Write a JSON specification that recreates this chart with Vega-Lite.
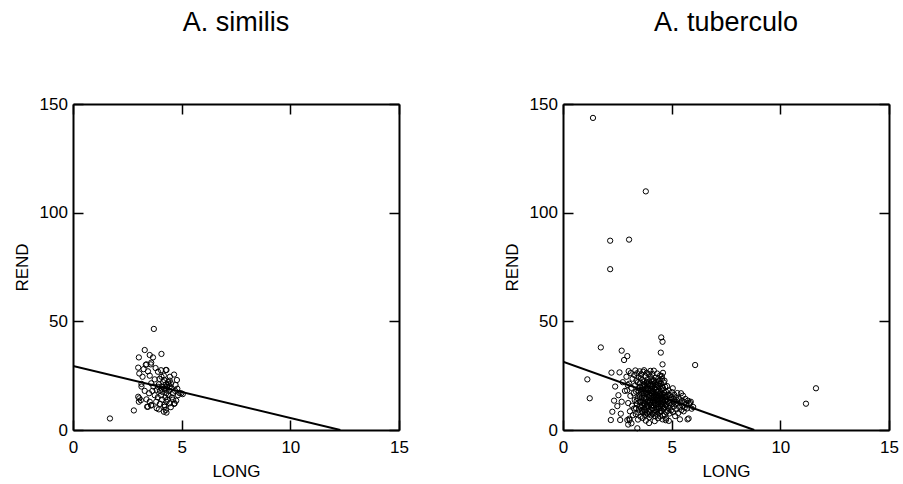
{
  "$schema": "https://vega.github.io/schema/vega-lite/v6.json",
  "background": "white",
  "padding": {"left": 13, "top": 9, "right": 5, "bottom": 5},
  "spacing": 164,
  "bounds": "flush",
  "config": {
    "view": {"stroke": null},
    "font": "Liberation Sans",
    "axis": {
      "grid": false,
      "domain": true,
      "domainColor": "black",
      "domainWidth": 2,
      "ticks": true,
      "tickSize": -10,
      "tickColor": "black",
      "tickWidth": 1.5,
      "labelFont": "Liberation Sans",
      "labelFontSize": 17,
      "labelColor": "black",
      "labelFlush": false,
      "labelOverlap": false,
      "titleFont": "Liberation Sans",
      "titleFontSize": 17,
      "titleFontWeight": "normal",
      "titleColor": "black"
    },
    "axisX": {"labelPadding": 19.5, "titlePadding": 8},
    "axisY": {"labelPadding": 15.6, "titlePadding": 8},
    "title": {"font": "Liberation Sans", "fontSize": 27, "fontWeight": "normal", "color": "black", "anchor": "middle", "baseline": "alphabetic", "offset": 58, "frame": "group"}
  },
  "datasets": {
    "similis": [
      {"LONG":1.7,"REND":5.3},{"LONG":2.8,"REND":9},{"LONG":3.0,"REND":28.7},{"LONG":3.05,"REND":26},{"LONG":3.03,"REND":33.4},
      {"LONG":3.3,"REND":36.8},{"LONG":3.53,"REND":34.5},{"LONG":3.68,"REND":33.4},{"LONG":4.07,"REND":35},{"LONG":3.72,"REND":46.5},
      {"LONG":3.38,"REND":30.2},{"LONG":3.58,"REND":30.2},{"LONG":4.3,"REND":27.6},{"LONG":3.91,"REND":26.8},{"LONG":3.2,"REND":24.5},
      {"LONG":3.53,"REND":25},{"LONG":3.76,"REND":23.3},{"LONG":4.07,"REND":24.5},{"LONG":4.46,"REND":24.5},{"LONG":4.78,"REND":23},
      {"LONG":4.45,"REND":22.7},{"LONG":4.72,"REND":20.7},{"LONG":3.15,"REND":21.2},{"LONG":3.6,"REND":21.5},{"LONG":3.91,"REND":19.9},
      {"LONG":3.5,"REND":16.9},{"LONG":3.76,"REND":16},{"LONG":3.38,"REND":14.1},{"LONG":3.05,"REND":14.6},{"LONG":3.03,"REND":13},
      {"LONG":3.53,"REND":13},{"LONG":3.83,"REND":13},{"LONG":4.45,"REND":12.3},{"LONG":4.68,"REND":12.3},{"LONG":3.45,"REND":10.7},
      {"LONG":3.6,"REND":11.5},{"LONG":4.22,"REND":10.7},{"LONG":4.27,"REND":9.2},{"LONG":4.18,"REND":8.4},{"LONG":4.3,"REND":8},
      {"LONG":4.98,"REND":16.9},{"LONG":4.83,"REND":16},{"LONG":4.65,"REND":25.5},{"LONG":4.27,"REND":27.6},{"LONG":3.35,"REND":30},
      {"LONG":3.0,"REND":15.3},{"LONG":3.12,"REND":13.7},{"LONG":3.41,"REND":10.7},{"LONG":3.6,"REND":11.3},{"LONG":4.65,"REND":12},
      {"LONG":4.0,"REND":18},{"LONG":4.1,"REND":20},{"LONG":4.2,"REND":19},{"LONG":4.3,"REND":17},{"LONG":4.4,"REND":21},
      {"LONG":4.15,"REND":22},{"LONG":4.25,"REND":15},{"LONG":4.35,"REND":14},{"LONG":4.05,"REND":16},{"LONG":3.95,"REND":21},
      {"LONG":4.5,"REND":19},{"LONG":4.6,"REND":17},{"LONG":4.55,"REND":15},{"LONG":4.45,"REND":20},{"LONG":4.2,"REND":23},
      {"LONG":4.1,"REND":14},{"LONG":4.0,"REND":12},{"LONG":4.3,"REND":13},{"LONG":4.4,"REND":16},{"LONG":4.7,"REND":18},
      {"LONG":4.8,"REND":19},{"LONG":4.9,"REND":17},{"LONG":5.05,"REND":16.5},{"LONG":4.25,"REND":18.5},{"LONG":4.12,"REND":17.5},
      {"LONG":4.33,"REND":19.8},{"LONG":4.38,"REND":22},{"LONG":4.5,"REND":21.5},{"LONG":4.18,"REND":25},{"LONG":3.98,"REND":23.5},
      {"LONG":3.85,"REND":18.5},{"LONG":3.7,"REND":20},{"LONG":3.65,"REND":18},{"LONG":3.9,"REND":15},{"LONG":4.05,"REND":27.5},
      {"LONG":3.8,"REND":28.5},{"LONG":3.45,"REND":27},{"LONG":3.25,"REND":28},{"LONG":3.6,"REND":31},{"LONG":3.15,"REND":20},
      {"LONG":3.3,"REND":18},{"LONG":3.85,"REND":10},{"LONG":4.5,"REND":10.5},{"LONG":4.6,"REND":14},{"LONG":4.75,"REND":13.5},
      {"LONG":3.95,"REND":9.5},{"LONG":4.2,"REND":11.5},{"LONG":4.28,"REND":21},{"LONG":4.42,"REND":18},{"LONG":4.08,"REND":19}
    ],
    "similis_fit": [{"LONG":0,"REND":29.5},{"LONG":12.3,"REND":0}],
    "tuberculo": [
      {"LONG":1.38,"REND":143.6},{"LONG":3.81,"REND":109.8},{"LONG":2.17,"REND":87.1},{"LONG":3.04,"REND":87.6},{"LONG":2.17,"REND":74},
      {"LONG":11.64,"REND":19.2},{"LONG":11.18,"REND":12.1},{"LONG":1.74,"REND":38},{"LONG":2.7,"REND":36.5},{"LONG":2.96,"REND":34},
      {"LONG":2.81,"REND":32.2},{"LONG":4.58,"REND":40.6},{"LONG":4.52,"REND":42.6},{"LONG":4.5,"REND":35.6},{"LONG":4.58,"REND":30.2},
      {"LONG":1.12,"REND":23.3},{"LONG":1.23,"REND":14.6},{"LONG":2.23,"REND":26.4},{"LONG":2.6,"REND":26.5},{"LONG":2.35,"REND":13.5},
      {"LONG":2.55,"REND":16},{"LONG":2.27,"REND":8.4},{"LONG":2.2,"REND":4.6},{"LONG":2.63,"REND":4.6},{"LONG":2.96,"REND":4.6},
      {"LONG":3.07,"REND":4.6},{"LONG":2.66,"REND":7.5},{"LONG":3.42,"REND":0.8},{"LONG":2.4,"REND":20},{"LONG":2.75,"REND":22},
      {"LONG":2.85,"REND":18},{"LONG":2.5,"REND":11},{"LONG":2.7,"REND":13},
      {"LONG":2.92,"REND":24.5},{"LONG":2.95,"REND":18.2},{"LONG":3.0,"REND":12.4},{"LONG":3.02,"REND":27.1},{"LONG":3.05,"REND":21.3},
      {"LONG":3.08,"REND":8.6},{"LONG":3.1,"REND":15.7},{"LONG":3.12,"REND":26.2},{"LONG":3.15,"REND":19.4},{"LONG":3.18,"REND":11.2},
      {"LONG":3.2,"REND":23.6},{"LONG":3.22,"REND":6.8},{"LONG":3.25,"REND":16.9},{"LONG":3.27,"REND":9.9},{"LONG":3.28,"REND":25.3},
      {"LONG":3.3,"REND":13.8},{"LONG":3.05,"REND":5.2},{"LONG":3.15,"REND":3.1},{"LONG":3.0,"REND":2.5},{"LONG":2.98,"REND":20.7},
      {"LONG":3.32,"REND":20.5},{"LONG":3.33,"REND":27.4},{"LONG":3.35,"REND":7.3},{"LONG":3.36,"REND":17.6},{"LONG":3.38,"REND":22.8},
      {"LONG":3.4,"REND":11.9},{"LONG":3.41,"REND":26.1},{"LONG":3.43,"REND":14.6},{"LONG":3.45,"REND":4.8},{"LONG":3.46,"REND":19.2},
      {"LONG":3.48,"REND":24.3},{"LONG":3.5,"REND":9.4},{"LONG":3.51,"REND":16.2},{"LONG":3.52,"REND":27.0},{"LONG":3.54,"REND":12.8},
      {"LONG":3.55,"REND":21.7},{"LONG":3.57,"REND":6.1},{"LONG":3.58,"REND":18.5},{"LONG":3.6,"REND":25.6},{"LONG":3.61,"REND":10.3},
      {"LONG":3.62,"REND":14.9},{"LONG":3.64,"REND":23.1},{"LONG":3.65,"REND":8.2},{"LONG":3.66,"REND":20.1},{"LONG":3.68,"REND":13.2},
      {"LONG":3.69,"REND":26.8},{"LONG":3.7,"REND":17.0},{"LONG":3.36,"REND":10.1},{"LONG":3.44,"REND":21.9},{"LONG":3.53,"REND":15.3},
      {"LONG":3.63,"REND":11.5},{"LONG":3.47,"REND":8.0},{"LONG":3.58,"REND":23.8},{"LONG":3.39,"REND":13.4},{"LONG":3.67,"REND":5.5},
      {"LONG":3.71,"REND":22.4},{"LONG":3.72,"REND":9.6},{"LONG":3.73,"REND":27.5},{"LONG":3.74,"REND":15.8},{"LONG":3.75,"REND":12.1},
      {"LONG":3.76,"REND":19.7},{"LONG":3.78,"REND":6.9},{"LONG":3.79,"REND":24.9},{"LONG":3.8,"REND":14.3},{"LONG":3.81,"REND":18.1},
      {"LONG":3.82,"REND":10.8},{"LONG":3.84,"REND":21.5},{"LONG":3.85,"REND":26.3},{"LONG":3.86,"REND":7.7},{"LONG":3.87,"REND":16.6},
      {"LONG":3.88,"REND":13.0},{"LONG":3.9,"REND":23.4},{"LONG":3.91,"REND":11.1},{"LONG":3.92,"REND":19.0},{"LONG":3.93,"REND":8.9},
      {"LONG":3.95,"REND":25.7},{"LONG":3.96,"REND":15.1},{"LONG":3.97,"REND":17.8},{"LONG":3.98,"REND":5.9},{"LONG":4.0,"REND":21.0},
      {"LONG":4.01,"REND":12.6},{"LONG":4.02,"REND":27.2},{"LONG":4.03,"REND":9.3},{"LONG":4.05,"REND":18.7},{"LONG":4.06,"REND":14.0},
      {"LONG":4.07,"REND":22.9},{"LONG":4.08,"REND":10.2},{"LONG":4.1,"REND":16.4},{"LONG":3.74,"REND":20.6},{"LONG":3.83,"REND":17.2},
      {"LONG":3.89,"REND":20.8},{"LONG":3.94,"REND":13.7},{"LONG":4.04,"REND":24.4},{"LONG":3.77,"REND":11.6},{"LONG":3.99,"REND":8.1},
      {"LONG":3.86,"REND":22.1},{"LONG":4.09,"REND":19.9},{"LONG":3.72,"REND":14.7},{"LONG":3.94,"REND":21.8},{"LONG":4.02,"REND":15.5},
      {"LONG":3.81,"REND":4.3},{"LONG":3.96,"REND":3.2},
      {"LONG":4.11,"REND":25.8},{"LONG":4.12,"REND":7.4},{"LONG":4.13,"REND":20.3},{"LONG":4.14,"REND":13.3},{"LONG":4.15,"REND":17.5},
      {"LONG":4.16,"REND":23.0},{"LONG":4.17,"REND":11.4},{"LONG":4.18,"REND":27.3},{"LONG":4.19,"REND":15.0},{"LONG":4.2,"REND":9.1},
      {"LONG":4.21,"REND":19.1},{"LONG":4.22,"REND":21.6},{"LONG":4.23,"REND":12.2},{"LONG":4.24,"REND":6.3},{"LONG":4.25,"REND":16.8},
      {"LONG":4.26,"REND":24.1},{"LONG":4.27,"REND":14.2},{"LONG":4.28,"REND":10.4},{"LONG":4.29,"REND":18.4},{"LONG":4.3,"REND":22.3},
      {"LONG":4.31,"REND":8.5},{"LONG":4.32,"REND":13.9},{"LONG":4.33,"REND":26.0},{"LONG":4.34,"REND":16.1},{"LONG":4.35,"REND":20.9},
      {"LONG":4.36,"REND":11.8},{"LONG":4.37,"REND":5.4},{"LONG":4.38,"REND":17.9},{"LONG":4.39,"REND":23.7},{"LONG":4.4,"REND":12.9},
      {"LONG":4.41,"REND":9.8},{"LONG":4.42,"REND":15.6},{"LONG":4.43,"REND":19.6},{"LONG":4.44,"REND":21.2},{"LONG":4.45,"REND":7.9},
      {"LONG":4.46,"REND":14.5},{"LONG":4.47,"REND":25.1},{"LONG":4.48,"REND":10.9},{"LONG":4.49,"REND":17.3},{"LONG":4.5,"REND":12.5},
      {"LONG":4.15,"REND":14.8},{"LONG":4.23,"REND":18.9},{"LONG":4.31,"REND":15.3},{"LONG":4.37,"REND":13.1},{"LONG":4.45,"REND":16.5},
      {"LONG":4.19,"REND":22.6},{"LONG":4.27,"REND":19.8},{"LONG":4.41,"REND":20.4},{"LONG":4.13,"REND":10.0},{"LONG":4.33,"REND":9.6},
      {"LONG":4.47,"REND":6.2},{"LONG":4.22,"REND":4.1},
      {"LONG":4.51,"REND":21.4},{"LONG":4.52,"REND":15.9},{"LONG":4.53,"REND":8.7},{"LONG":4.54,"REND":18.8},{"LONG":4.55,"REND":13.6},
      {"LONG":4.56,"REND":23.5},{"LONG":4.57,"REND":11.0},{"LONG":4.58,"REND":16.7},{"LONG":4.59,"REND":6.6},{"LONG":4.6,"REND":19.3},
      {"LONG":4.62,"REND":14.1},{"LONG":4.63,"REND":9.7},{"LONG":4.64,"REND":21.9},{"LONG":4.65,"REND":12.3},{"LONG":4.66,"REND":17.1},
      {"LONG":4.68,"REND":7.2},{"LONG":4.69,"REND":15.2},{"LONG":4.7,"REND":19.9},{"LONG":4.71,"REND":10.6},{"LONG":4.72,"REND":13.5},
      {"LONG":4.74,"REND":17.6},{"LONG":4.75,"REND":5.3},{"LONG":4.76,"REND":11.7},{"LONG":4.78,"REND":15.4},{"LONG":4.79,"REND":20.2},
      {"LONG":4.8,"REND":8.8},{"LONG":4.82,"REND":13.0},{"LONG":4.83,"REND":16.3},{"LONG":4.85,"REND":10.1},{"LONG":4.86,"REND":18.2},
      {"LONG":4.88,"REND":12.4},{"LONG":4.89,"REND":14.6},{"LONG":4.9,"REND":7.6},{"LONG":4.92,"REND":16.0},{"LONG":4.94,"REND":11.3},
      {"LONG":4.95,"REND":13.9},{"LONG":4.97,"REND":9.0},{"LONG":4.98,"REND":15.1},{"LONG":4.6,"REND":26.3},{"LONG":4.55,"REND":24.8},
      {"LONG":4.67,"REND":22.7},{"LONG":4.73,"REND":4.5},{"LONG":4.87,"REND":4.2},{"LONG":4.58,"REND":4.9},
      {"LONG":5.01,"REND":17.4},{"LONG":5.03,"REND":12.0},{"LONG":5.05,"REND":19.2},{"LONG":5.06,"REND":8.3},{"LONG":5.08,"REND":14.4},
      {"LONG":5.1,"REND":10.8},{"LONG":5.12,"REND":16.2},{"LONG":5.14,"REND":13.1},{"LONG":5.16,"REND":6.4},{"LONG":5.18,"REND":11.9},
      {"LONG":5.2,"REND":15.0},{"LONG":5.22,"REND":9.5},{"LONG":5.24,"REND":13.7},{"LONG":5.26,"REND":17.0},{"LONG":5.28,"REND":12.2},
      {"LONG":5.3,"REND":7.8},{"LONG":5.33,"REND":14.2},{"LONG":5.35,"REND":10.6},{"LONG":5.38,"REND":4.9},{"LONG":5.4,"REND":12.7},
      {"LONG":5.43,"REND":16.9},{"LONG":5.45,"REND":9.2},{"LONG":5.48,"REND":13.4},{"LONG":5.5,"REND":11.1},
      {"LONG":5.52,"REND":15.8},{"LONG":5.55,"REND":8.6},{"LONG":5.58,"REND":12.9},{"LONG":5.6,"REND":10.3},{"LONG":5.63,"REND":14.3},
      {"LONG":5.67,"REND":11.6},{"LONG":5.7,"REND":9.9},{"LONG":5.73,"REND":4.9},{"LONG":5.75,"REND":13.5},{"LONG":5.8,"REND":11.9},
      {"LONG":5.85,"REND":12.4},{"LONG":5.88,"REND":13.0},{"LONG":5.92,"REND":9.8},{"LONG":5.99,"REND":10.6},{"LONG":5.78,"REND":5.3},
      {"LONG":6.08,"REND":29.9},
      {"LONG":3.52,"REND":10.9},{"LONG":3.57,"REND":13.1},{"LONG":3.61,"REND":16.7},{"LONG":3.66,"REND":18.6},{"LONG":3.7,"REND":12.4},
      {"LONG":3.75,"REND":9.0},{"LONG":3.79,"REND":16.9},{"LONG":3.83,"REND":14.6},{"LONG":3.88,"REND":11.8},{"LONG":3.9,"REND":18.3},
      {"LONG":3.95,"REND":10.5},{"LONG":3.99,"REND":13.5},{"LONG":4.03,"REND":17.1},{"LONG":4.06,"REND":11.3},{"LONG":4.09,"REND":14.9},
      {"LONG":4.12,"REND":18.0},{"LONG":4.16,"REND":12.7},{"LONG":4.2,"REND":16.0},{"LONG":4.24,"REND":13.6},{"LONG":4.28,"REND":11.6},
      {"LONG":4.32,"REND":17.7},{"LONG":4.36,"REND":14.4},{"LONG":4.4,"REND":10.7},{"LONG":4.44,"REND":13.8},{"LONG":4.48,"REND":15.9},
      {"LONG":4.52,"REND":11.9},{"LONG":4.56,"REND":14.8},{"LONG":4.6,"REND":12.9},{"LONG":4.64,"REND":16.2},{"LONG":4.68,"REND":13.3},
      {"LONG":4.72,"REND":11.5},{"LONG":4.76,"REND":14.0},{"LONG":3.56,"REND":19.8},{"LONG":3.72,"REND":21.1},{"LONG":3.86,"REND":19.3},
      {"LONG":4.0,"REND":20.3},{"LONG":4.14,"REND":21.2},{"LONG":4.28,"REND":20.6},{"LONG":4.42,"REND":22.5},{"LONG":4.56,"REND":20.0},
      {"LONG":3.48,"REND":17.9},{"LONG":3.62,"REND":8.8},{"LONG":3.78,"REND":8.3},{"LONG":3.92,"REND":7.2},{"LONG":4.06,"REND":6.7},
      {"LONG":4.2,"REND":7.8},{"LONG":4.34,"REND":7.0},{"LONG":4.48,"REND":8.9},{"LONG":4.62,"REND":10.0},{"LONG":4.76,"REND":8.2}
    ],
    "tuberculo_fit": [{"LONG":0,"REND":31.4},{"LONG":8.8,"REND":0}]
  },
  "hconcat": [
    {
      "width": 326,
      "height": 326,
      "title": {"text": "A. similis"},
      "layer": [
        {
          "data": {"name": "similis"},
          "mark": {"type": "point", "shape": "circle", "filled": false, "size": 28, "color": "black", "strokeWidth": 1, "opacity": 1},
          "encoding": {
            "x": {"field": "LONG", "type": "quantitative", "scale": {"domain": [0, 15], "nice": false}, "axis": {"values": [0, 5, 10, 15], "title": "LONG"}},
            "y": {"field": "REND", "type": "quantitative", "scale": {"domain": [0, 150], "nice": false}, "axis": {"values": [0, 50, 100, 150], "title": "REND"}}
          }
        },
        {
          "data": {"name": "similis_fit"},
          "mark": {"type": "line", "color": "black", "strokeWidth": 2, "clip": true},
          "encoding": {
            "x": {"field": "LONG", "type": "quantitative", "axis": {"orient": "top", "values": [0, 5, 10, 15], "labels": false, "title": null}},
            "y": {"field": "REND", "type": "quantitative", "axis": {"orient": "right", "values": [0, 50, 100, 150], "labels": false, "title": null}}
          }
        }
      ],
      "resolve": {"axis": {"x": "independent", "y": "independent"}}
    },
    {
      "width": 326,
      "height": 326,
      "title": {"text": "A. tuberculo"},
      "layer": [
        {
          "data": {"name": "tuberculo"},
          "mark": {"type": "point", "shape": "circle", "filled": false, "size": 28, "color": "black", "strokeWidth": 1, "opacity": 1},
          "encoding": {
            "x": {"field": "LONG", "type": "quantitative", "scale": {"domain": [0, 15], "nice": false}, "axis": {"values": [0, 5, 10, 15], "title": "LONG"}},
            "y": {"field": "REND", "type": "quantitative", "scale": {"domain": [0, 150], "nice": false}, "axis": {"values": [0, 50, 100, 150], "title": "REND"}}
          }
        },
        {
          "data": {"name": "tuberculo_fit"},
          "mark": {"type": "line", "color": "black", "strokeWidth": 2, "clip": true},
          "encoding": {
            "x": {"field": "LONG", "type": "quantitative", "axis": {"orient": "top", "values": [0, 5, 10, 15], "labels": false, "title": null}},
            "y": {"field": "REND", "type": "quantitative", "axis": {"orient": "right", "values": [0, 50, 100, 150], "labels": false, "title": null}}
          }
        }
      ],
      "resolve": {"axis": {"x": "independent", "y": "independent"}}
    }
  ]
}
